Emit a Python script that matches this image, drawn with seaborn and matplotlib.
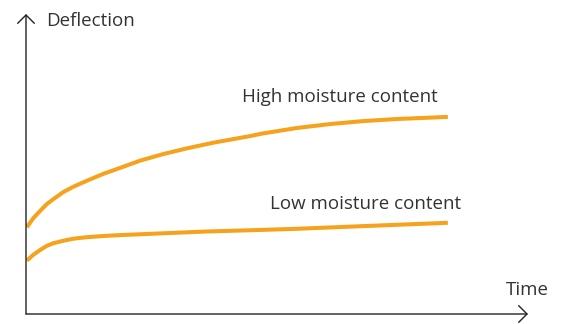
import matplotlib
matplotlib.use("Agg")
import matplotlib.pyplot as plt
import seaborn as sns
import pandas as pd

# values (time and deflection in arbitrary units)
time_high = [0.02, 0.17, 0.33, 0.49, 0.65, 0.88, 1.12, 1.44, 1.83, 2.23, 2.70, 3.25, 3.81,
             4.44, 5.27, 5.62, 6.42, 7.2, 7.99, 8.79, 10.0]
defl_high = [2.89, 3.19, 3.43, 3.66, 3.83, 4.06, 4.24, 4.44, 4.67, 4.87, 5.11, 5.33, 5.52,
             5.71, 5.92, 6.02, 6.2, 6.33, 6.43, 6.5, 6.57]

time_low = [0.02, 0.17, 0.33, 0.49, 0.65, 0.88, 1.12, 1.44, 1.83, 2.23, 3.25, 4.28, 5.27,
            6.42, 8.0, 10.0]
defl_low = [1.78, 1.97, 2.13, 2.27, 2.36, 2.44, 2.51, 2.56, 2.60, 2.63, 2.69, 2.75, 2.79,
            2.84, 2.93, 3.04]

series_labels = ["High moisture content", "Low moisture content"]
x_label = "Time"
y_label = "Deflection"

ORANGE = "#F6A21D"
TEXT = "#333333"

sns.set_style("white")
plt.rcParams["font.family"] = ["Open Sans", "DejaVu Sans"]

df = pd.concat([
    pd.DataFrame({"time": time_high, "deflection": defl_high, "series": series_labels[0]}),
    pd.DataFrame({"time": time_low, "deflection": defl_low, "series": series_labels[1]}),
])

fig = plt.figure(figsize=(5.63, 3.24), dpi=100)
ax = fig.add_axes([26 / 563, 10 / 324, 502 / 563, 300 / 324])

sns.lineplot(data=df, x="time", y="deflection", units="series", estimator=None,
             color=ORANGE, linewidth=2.9, ax=ax, legend=False,
             solid_joinstyle="round", solid_capstyle="butt")

ax.set_xlim(0, 11.9)
ax.set_ylim(0, 10)
ax.set_xticks([])
ax.set_yticks([])
ax.set_xlabel("")
ax.set_ylabel("")
for s in ax.spines.values():
    s.set_visible(False)

# axes drawn as open arrows
arrow = dict(arrowstyle="->,head_length=0.6,head_width=0.6", color="#222222", lw=1.0,
             mutation_scale=10, shrinkA=0, shrinkB=0)
ax.annotate("", xy=(11.9, 0), xytext=(0, 0), arrowprops=arrow, annotation_clip=False)
ax.annotate("", xy=(0, 10), xytext=(0, 0), arrowprops=arrow, annotation_clip=False)

fs = 13.5
ax.text(0.47, 9.77, y_label, fontsize=fs, color=TEXT, ha="left", va="center")
ax.text(12.39, 0.8, x_label, fontsize=fs, color=TEXT, ha="right", va="center", clip_on=False)
ax.text(7.44, 7.23, series_labels[0], fontsize=fs, color=TEXT, ha="center", va="center")
ax.text(8.04, 3.67, series_labels[1], fontsize=fs, color=TEXT, ha="center", va="center")

fig.savefig("out.png", dpi=100)
